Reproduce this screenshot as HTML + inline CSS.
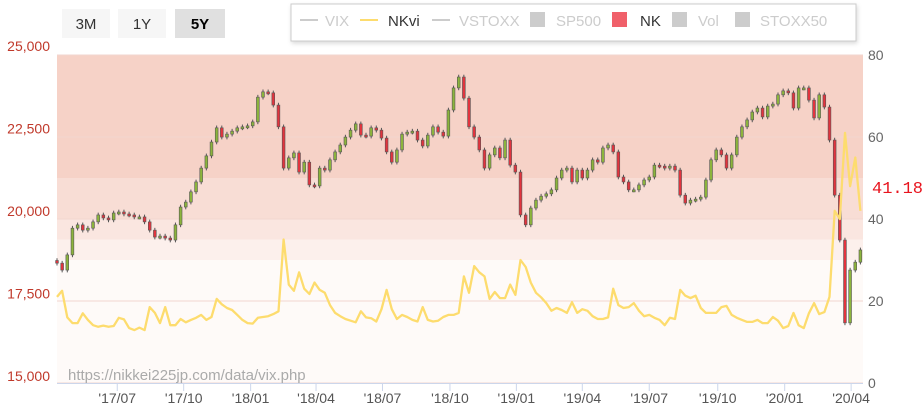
<!DOCTYPE html>
<html><head><meta charset="utf-8"><style>
body{margin:0;background:#fff;width:923px;height:411px;overflow:hidden;font-family:"Liberation Sans",sans-serif}
svg{position:absolute;left:0;top:0}
</style></head><body>
<svg id="chart" width="923" height="411" viewBox="0 0 923 411" font-family="Liberation Sans, sans-serif">
 <g id="bands"></g>
 <g id="grid"></g>
 <text x="68" y="380" font-size="15" fill="#aaa">https://nikkei225jp.com/data/vix.php</text>
 <g id="xaxis"></g>
 <g id="yleft"></g>
 <g id="yright"></g>
 <g id="candles"></g>
 <path id="vi" fill="none" stroke="#fddc6e" stroke-width="2.3" stroke-linejoin="round"></path>
 <text x="872" y="193" font-size="17" fill="#e8141e" font-family="Liberation Mono, monospace">41.18</text>
 <g><rect x="62" y="9" width="48" height="29" fill="#f6f6f6"/><text x="86" y="29" font-size="15" text-anchor="middle" fill="#333">3M</text></g>
 <g><rect x="118" y="9" width="48" height="29" fill="#f6f6f6"/><text x="142" y="29" font-size="15" text-anchor="middle" fill="#333">1Y</text></g>
 <g><rect x="175" y="9" width="50" height="29" fill="#e0e0e0"/><text x="200" y="29" font-size="15" text-anchor="middle" fill="#000" font-weight="bold">5Y</text></g>
 <g>
  <rect x="291" y="4" width="565" height="37" fill="#fff" stroke="#ccc" style="filter:drop-shadow(1px 2px 2px rgba(0,0,0,0.15))"/>
  <g><line x1="300" y1="20" x2="318" y2="20" stroke="#ccc" stroke-width="2"/><text x="325" y="26" font-size="15" fill="#ccc">VIX</text></g>
  <g><line x1="360" y1="20" x2="378" y2="20" stroke="#fddc6e" stroke-width="2"/><text x="388" y="26" font-size="15" fill="#333">NKvi</text></g>
  <g><line x1="432" y1="20" x2="450" y2="20" stroke="#ccc" stroke-width="2"/><text x="459" y="26" font-size="15" fill="#ccc">VSTOXX</text></g>
  <g><rect x="530" y="12" width="15" height="15" fill="#ccc"/><text x="556" y="26" font-size="15" fill="#ccc">SP500</text></g>
  <g><rect x="612" y="12" width="15" height="15" fill="#f0606a"/><text x="640" y="26" font-size="15" fill="#333">NK</text></g>
  <g><rect x="672" y="12" width="15" height="15" fill="#ccc"/><text x="698" y="26" font-size="15" fill="#ccc">Vol</text></g>
  <g><rect x="735" y="12" width="15" height="15" fill="#ccc"/><text x="760" y="26" font-size="15" fill="#ccc">STOXX50</text></g>
 </g>
</svg>
<script>
const nkClose=[18420,18210,18670,19480,19580,19420,19480,19670,19880,19790,19730,19940,19970,19910,19880,19820,19820,19670,19420,19210,19240,19180,19120,19580,20120,20270,20580,20880,21300,21670,22090,22520,22240,22330,22420,22520,22550,22580,22700,23450,23610,23580,23210,22550,21300,21610,21760,21180,21480,20790,20760,21300,21240,21550,21790,22000,22240,22450,22640,22300,22270,22520,22450,22210,21790,21480,21850,22330,22390,22420,22150,21970,22300,22550,22390,22270,23060,23730,24060,23420,22550,22240,21850,21300,21700,21910,21610,22150,21390,21180,19880,19580,20090,20330,20450,20520,20640,21000,21240,21300,20880,21240,21000,21240,21550,21480,21910,22000,21790,21030,20880,20640,20640,20790,20940,21030,21390,21360,21300,21360,21240,20480,20240,20330,20360,20420,20940,21550,21850,21700,21300,21700,22240,22550,22760,23000,23120,22850,23180,23240,23520,23640,23580,23120,23730,23730,23360,22820,23520,23150,22150,20480,19120,16610,18210,18450,18820];
const nkviValues=[21,22.5,16,14.6,14.6,17,15.4,14.1,13.7,14,13.7,13.9,15.9,15.5,13.4,12.9,13.5,12.9,18.5,17.1,14.6,18.5,14.1,14.1,15.6,14.8,15.4,15.9,16.6,15.4,16.1,20.5,19.2,18.3,17.8,16.6,15.4,14.6,14.5,15.9,16.1,16.3,16.8,17.5,35,24,22.5,27,23,21.7,24.5,22.7,22,19,17.1,16.3,15.6,15.2,14.8,17.5,16,15.8,15,18,22.7,18,15.6,16.6,16.1,15.4,15,18.5,15.4,15,15.2,16.1,16.6,16.6,17.1,26,22,28.5,27,26,20.5,22.2,20.7,20.7,24,21.5,30,28.3,24.5,22,20.9,19.5,17.6,18.3,17.8,17.1,19.7,17.1,18,17.6,16.3,15.6,15.6,16,23,19,18.3,18.5,19.5,17.6,16.3,16.6,15.9,15.4,14.1,15.9,15.6,22.7,21.3,20.7,21.3,18.3,17.1,17.1,17.1,18.5,18.8,16.6,15.9,15.4,14.9,14.9,15.4,14.6,14.6,16.1,15.2,13.4,13.9,17.1,14.1,13.4,17,19.5,16.8,17.3,21,42,40,61,48,55,42];
const xTickLabels=["'17/07","'17/10","'18/01","'18/04","'18/07","'18/10","'19/01","'19/04","'19/07","'19/10","'20/01","'20/04"];
const xTickWeeks=[11.7,24.6,37.6,50.3,63.2,76.3,89.2,102.0,115.0,128.3,141.3,154.2];
const leftTicks=[15000,17500,20000,22500,25000];
const rightTicks=[0,20,40,60,80];
const bandEdges=[80,50,40,35,30,0];
const bandColors=["#f6d2c7","#f8ddd5","#fae6e0","#fcf0ec","#fefaf8"];

const NS="http://www.w3.org/2000/svg";
const X0=57,X1=863;
const x=i=>X0+i*5.15;
const yL=v=>376-(v-15000)*0.033;
const yR=v=>383-v*4.1;
function mk(tag,attrs,parent){const e=document.createElementNS(NS,tag);for(const k in attrs)e.setAttribute(k,attrs[k]);parent.appendChild(e);return e;}

const bands=document.getElementById('bands');
for(let b=0;b<bandColors.length;b++){
  const r=mk('rect',{x:X0,y:yR(bandEdges[b]),width:X1-X0,height:yR(bandEdges[b+1])-yR(bandEdges[b]),fill:bandColors[b]},bands);
  
  
}
const grid=document.getElementById('grid');
rightTicks.forEach(t=>{const l=mk('line',{x1:X0,x2:X1,y1:yR(t),y2:yR(t),stroke:'#f2d6cf','stroke-width':1},grid);
  
  });
const yl=document.getElementById('yleft');
leftTicks.forEach(t=>{const e=mk('text',{x:50,y:yL(t)+5,'font-size':14,fill:'#c0392b','text-anchor':'end'},yl);e.textContent=t.toLocaleString('en-US');
  
  });
const yr=document.getElementById('yright');
rightTicks.forEach(t=>{const e=mk('text',{x:868,y:yR(t)+5,'font-size':14,fill:'#666'},yr);e.textContent=t;
  
  });
const xa=document.getElementById('xaxis');
mk('line',{x1:X0,x2:X1,y1:383.5,y2:383.5,stroke:'#ccd6eb'},xa);
xTickLabels.forEach((lab,k)=>{const xx=x(xTickWeeks[k]);
  mk('line',{x1:xx,x2:xx,y1:383,y2:391,stroke:'#ccd6eb'},xa);
  const e=mk('text',{x:xx,y:403,'font-size':14,fill:'#555','text-anchor':'middle'},xa);e.textContent=lab;
  
  });
const cg=document.getElementById('candles');
for(let i=0;i<nkClose.length;i++){
  const c=nkClose[i],o=i>0?nkClose[i-1]:c+80;
  const hi=Math.max(o,c)+70,lo=Math.min(o,c)-70;
  const up=c>=o, xx=x(i);
  const w=mk('line',{x1:xx,x2:xx,y1:yL(hi),y2:yL(lo),stroke:'#555','stroke-width':1},cg);
  
  
  const top=yL(Math.max(o,c)),h=Math.max(2,Math.abs(yL(o)-yL(c)));
  const r=mk('rect',{x:xx-1.4,y:top,width:2.8,height:h,fill:up?'#8cb43c':'#e2343e',stroke:'#555','stroke-width':0.6},cg);
  
  
}
let d='';
nkviValues.forEach((v,i)=>{d+=(i?'L':'M')+x(i).toFixed(1)+','+yR(v).toFixed(1);});
document.getElementById('vi').setAttribute('d',d);
</script>
</body></html>
